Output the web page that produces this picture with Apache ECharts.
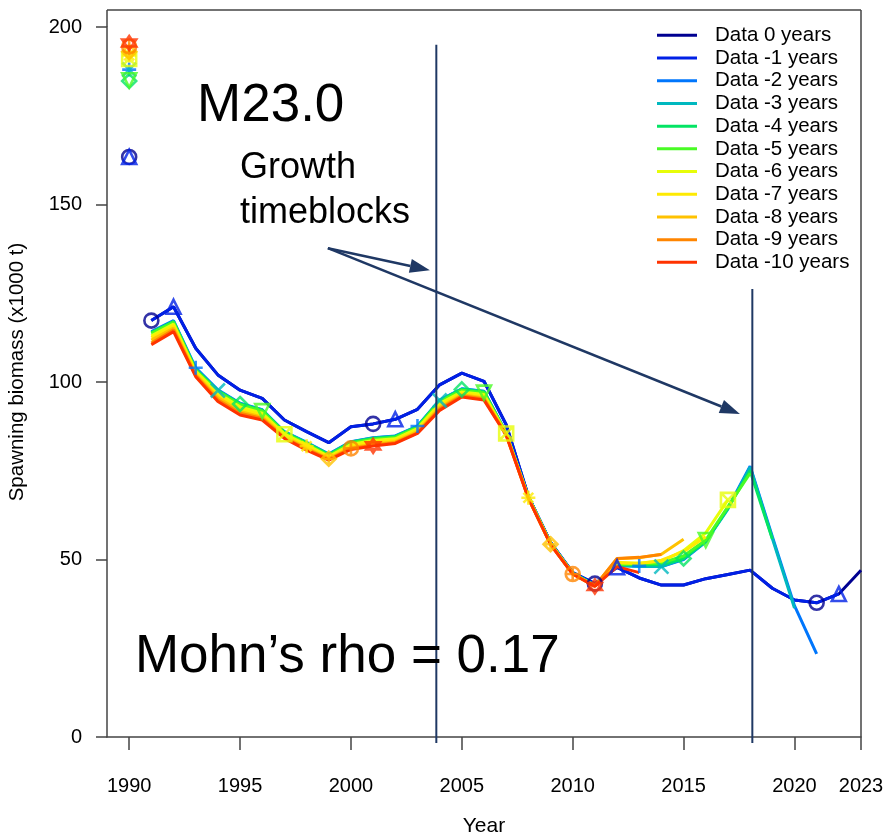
<!DOCTYPE html>
<html><head><meta charset="utf-8">
<script src="https://cdn.jsdelivr.net/npm/echarts@6/dist/echarts.min.js"></script>
<style>html,body{margin:0;padding:0;background:#fff;overflow:hidden}#c{width:885px;height:835px}</style>
</head><body><div id="c"></div>
<script>
// ---- data ----
const years = [1991,1992,1993,1994,1995,1996,1997,1998,1999,2000,2001,2002,2003,2004,2005,2006,2007,2008,2009,2010,2011,2012,2013,2014,2015,2016,2017,2018,2019,2020,2021,2022,2023];
const seriesNames = ['Data 0 years','Data -1 years','Data -2 years','Data -3 years','Data -4 years','Data -5 years','Data -6 years','Data -7 years','Data -8 years','Data -9 years','Data -10 years'];
const d0  = [117.3,121.2,109.5,102.0,97.7,95.4,89.3,86.0,82.9,87.4,88.2,89.5,92.3,99.2,102.5,100.2,88.0,67.8,54.8,46.3,43.2,47.8,44.8,42.8,42.8,44.6,45.8,47.0,41.9,38.6,37.8,40.3,47.0];
const d1  = [117.3,121.2,109.5,102.0,97.7,95.4,89.3,86.0,82.9,87.4,88.2,89.5,92.3,99.2,102.5,100.2,88.0,67.8,54.8,46.3,43.2,47.8,44.8,42.8,42.8,44.6,45.8,47.0,41.9,38.6,37.8,40.3];
const d2  = [114.2,117.3,104.0,97.8,94.0,92.2,86.0,83.0,79.7,83.2,84.3,84.8,87.6,94.9,98.1,97.4,85.7,67.7,54.7,46.2,42.8,48.3,48.2,48.0,50.0,55.0,64.5,76.3,56.5,37.0,23.4];
const d3  = [114.0,117.1,103.7,97.6,93.9,92.1,85.9,82.9,79.6,83.1,84.2,84.7,87.5,94.8,98.0,97.3,85.6,67.6,54.6,46.1,42.7,48.3,48.0,48.0,50.2,55.0,64.2,76.0,56.0,36.3];
const d4  = [113.9,117.0,103.5,97.5,93.8,92.0,85.8,82.8,79.5,83.0,84.1,84.6,87.4,94.7,97.9,97.2,85.6,67.6,54.6,46.1,42.7,48.5,48.5,48.5,50.3,55.2,64.5,75.0,55.8];
const d5  = [113.7,116.8,103.3,97.3,93.6,91.8,85.6,82.6,79.3,82.8,83.9,84.4,87.2,94.5,97.7,97.0,85.5,67.5,54.5,46.0,42.6,48.6,48.7,49.0,51.0,55.5,64.9,74.3];
const d6  = [113.0,116.3,103.0,96.8,93.0,91.2,85.3,82.3,79.0,82.4,83.5,84.0,86.9,93.9,97.2,96.5,85.5,67.5,54.5,46.0,42.6,49.0,49.0,49.5,52.5,57.5,66.8];
const d7  = [112.5,115.8,102.6,96.2,92.4,90.7,85.0,81.9,78.8,82.0,83.0,83.6,86.5,93.4,96.8,96.0,85.3,67.4,54.4,46.0,42.5,49.2,48.8,49.8,52.2,56.4];
const d8  = [111.8,115.2,102.1,95.6,91.7,90.1,84.6,81.4,78.4,81.5,82.5,83.2,86.0,92.8,96.4,95.5,85.2,67.3,54.3,45.9,42.5,50.2,50.5,51.5,55.7];
const d9  = [111.0,114.7,101.8,95.0,91.2,89.7,84.3,81.1,78.2,81.3,82.2,82.9,85.7,92.4,96.1,95.2,85.1,67.3,54.3,45.9,42.5,50.3,50.6,51.4];
const d10 = [110.5,114.2,101.5,94.5,90.7,89.3,84.1,80.8,78.0,81.0,82.0,82.7,85.5,92.0,95.8,94.9,85.0,67.2,54.2,45.9,42.4,48.0,46.3];
// unfished (virgin) spawning biomass, plotted at 1990
const virgin = [163.4,163.4,188.0,188.0,184.8,185.0,191.0,192.0,193.0,194.5,195.5];
const xTicks = [1990,1995,2000,2005,2010,2015,2020,2023];
const yTicks = [0,50,100,150,200];

// ---- styles ----
const colors = ['#000091','#0020E6','#0076FC','#00B8BF','#04E464','#49FB25','#E7FD09','#FEEA02','#FFC200','#FF8500','#FF3300'];
const symbols = [
  'circle',
  'triangle',
  'path://M10,0 L10,20 M0,10 L20,10',
  'path://M1,1 L19,19 M19,1 L1,19',
  'diamond',
  'path://M0,1 L20,1 L10,19 Z',
  'path://M1,1 L19,1 L19,19 L1,19 Z M1,1 L19,19 M19,1 L1,19',
  'path://M10,0 L10,20 M0,10 L20,10 M3,3 L17,17 M17,3 L3,17',
  'path://M10,0 L20,10 L10,20 L0,10 Z M10,0 L10,20 M0,10 L20,10',
  'path://M0,10 A10,10 0 1,1 20,10 A10,10 0 1,1 0,10 Z M10,0 L10,20 M0,10 L20,10',
  'path://M10,0 L19,15 L1,15 Z M10,20 L1,5 L19,5 Z'
];
const FONT = "'Liberation Sans', Arial, sans-serif";
const all = [d0,d1,d2,d3,d4,d5,d6,d7,d8,d9,d10];

const series = [];
all.forEach((arr, k) => {
  series.push({
    name: seriesNames[k], type: 'line', data: arr.map((v, i) => [years[i], v]),
    symbol: 'none', lineStyle: {color: colors[k], width: 3}, itemStyle: {color: colors[k]},
    z: 2, silent: true, animation: false
  });
});
all.forEach((arr, k) => {
  const pts = [[1990, virgin[k]]];
  for (let j = 0; j < 4; j++) {
    const yr = 1991 + k + 10 * j;
    const idx = years.indexOf(yr);
    if (idx >= 0 && idx < arr.length) pts.push([yr, arr[idx]]);
  }
  series.push({
    name: 'pts' + k, type: 'scatter', data: pts, symbol: symbols[k], symbolSize: 14,
    itemStyle: {color: 'rgba(0,0,0,0)', borderColor: colors[k], borderWidth: 2.6},
    z: 3, silent: true, animation: false
  });
});

const chart = echarts.init(document.getElementById('c'));
chart.setOption({
  animation: false,
  backgroundColor: '#fff',
  textStyle: {fontFamily: FONT},
  grid: {left: 107, right: 24, top: 27, bottom: 98, outerBoundsMode: 'none', containLabel: false},
  xAxis: {
    type: 'value', min: 1989, max: 2023,
    name: 'Year', nameLocation: 'middle', nameGap: 79,
    nameTextStyle: {fontSize: 21, color: '#000', fontFamily: FONT},
    axisLine: {show: true, onZero: false, lineStyle: {color: '#444', width: 1.5}},
    axisTick: {show: true, length: 13, customValues: xTicks, lineStyle: {color: '#444', width: 1.5}},
    axisLabel: {customValues: xTicks, fontSize: 20, color: '#000', margin: 39, fontFamily: FONT,
      formatter: v => String(v)},
    splitLine: {show: false}
  },
  yAxis: {
    type: 'value', min: 0, max: 200, interval: 50,
    name: 'Spawning biomass (x1000 t)', nameLocation: 'middle', nameGap: 79,
    nameTextStyle: {fontSize: 20.5, color: '#000', fontFamily: FONT, padding: [0, 0, 0, 20]},
    axisLine: {show: true, lineStyle: {color: '#444', width: 1.5}},
    axisTick: {show: true, length: 11, customValues: yTicks, lineStyle: {color: '#444', width: 1.5}},
    axisLabel: {fontSize: 20, color: '#000', margin: 25, fontFamily: FONT,
      customValues: yTicks, formatter: v => String(v)},
    splitLine: {show: false}
  },
  legend: {
    data: seriesNames, orient: 'vertical', left: 657, top: 24, padding: 0,
    itemWidth: 40, itemHeight: 3, itemGap: 0, icon: 'rect',
    textStyle: {fontSize: 20.5, color: '#000', lineHeight: 22.7, fontFamily: FONT, padding: [0,0,0,13]},
    selectedMode: false
  },
  series: series
});

// ---- annotations ----
function px(x, y) { return chart.convertToPixel({gridIndex: 0}, [x, y]); }
const NAVY = '#1F3864';
const g = [];
function vline(x, y1, y2) {
  const a = px(x, y1), b = px(x, y2);
  g.push({type: 'line', shape: {x1: a[0], y1: a[1], x2: b[0], y2: b[1]}, style: {stroke: NAVY, lineWidth: 2}, z: 10});
}
function arrow(x0, y0, x1, y1) {
  const a = px(x0, y0), b = px(x1, y1);
  const dx = b[0] - a[0], dy = b[1] - a[1], L = Math.hypot(dx, dy);
  const ux = dx / L, uy = dy / L, hl = 20, hw = 7;
  const bx = b[0] - ux * hl, by = b[1] - uy * hl;
  g.push({type: 'line', shape: {x1: a[0], y1: a[1], x2: bx, y2: by}, style: {stroke: NAVY, lineWidth: 2.5}, z: 10});
  g.push({type: 'polygon', shape: {points: [[b[0], b[1]], [bx - uy * hw, by + ux * hw], [bx + uy * hw, by - ux * hw]]}, style: {fill: NAVY}, z: 10});
}
function label(x, y, text, size, lh) {
  const p = px(x, y);
  g.push({type: 'text', x: p[0], y: p[1], z: 10,
    style: {text: text, fontSize: size, fontFamily: FONT, fill: '#000', verticalAlign: 'middle', align: 'left', lineHeight: lh || size}});
}
vline(2003.85, 195, -1.7);
vline(2018.1, 126.2, -1.7);
arrow(1998.96, 137.7, 2003.56, 131.5);
arrow(1998.96, 137.7, 2017.54, 91.0);
label(1993.06, 177.5, 'M23.0', 53);
label(1995.0, 153.9, 'Growth\ntimeblocks', 36, 45);
label(1990.26, 22.5, 'Mohn\u2019s rho = 0.17', 53);
// frame parts
const tl = px(1989, 204.8), tr = px(2023, 204.8), br = px(2023, 0), yl = px(1989, 200);
g.push({type: 'line', shape: {x1: tr[0], y1: tr[1], x2: br[0], y2: br[1]}, style: {stroke: '#444', lineWidth: 1.5}, z: 1});
g.push({type: 'line', shape: {x1: tl[0], y1: tl[1], x2: tr[0], y2: tr[1]}, style: {stroke: '#444', lineWidth: 1.5}, z: 1});
g.push({type: 'line', shape: {x1: tl[0], y1: tl[1], x2: yl[0], y2: yl[1]}, style: {stroke: '#444', lineWidth: 1.5}, z: 1});
chart.setOption({graphic: g});
</script>
</body></html>
